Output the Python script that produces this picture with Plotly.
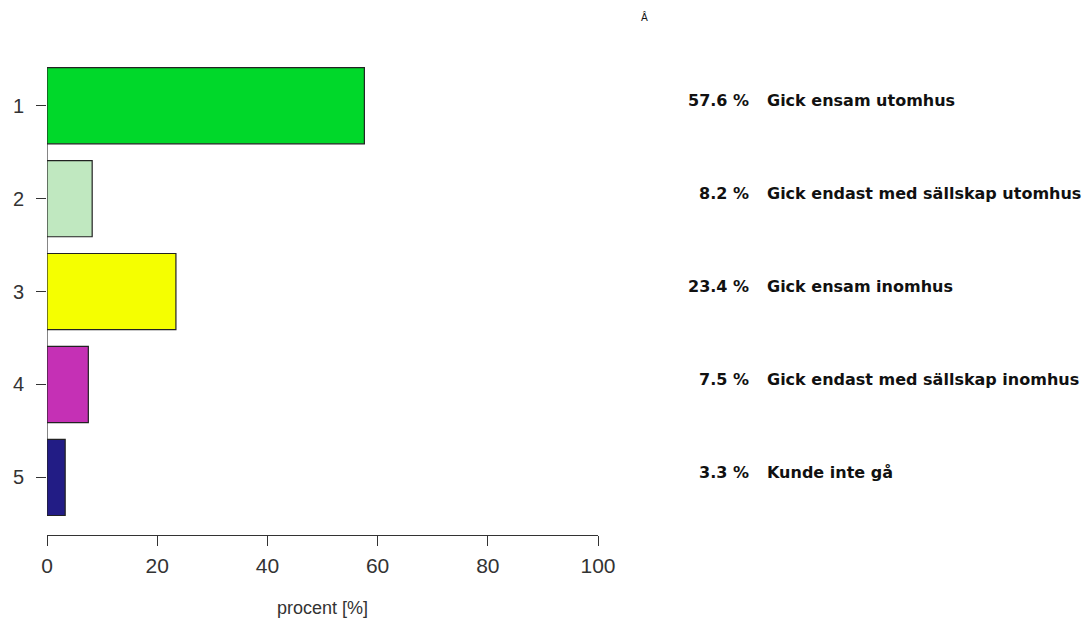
import plotly.graph_objects as go

categories = [1, 2, 3, 4, 5]
values = [57.6, 8.2, 23.4, 7.5, 3.3]
labels = ["Gick ensam utomhus", "Gick endast med sällskap utomhus",
          "Gick ensam inomhus", "Gick endast med sällskap inomhus", "Kunde inte gå"]
colors = ["#00d82a", "#c0e8c0", "#f5ff00", "#c530b5", "#221c85"]
x_ticks = [0, 20, 40, 60, 80, 100]

# page body has an 8px margin; figure coords = screen coords - 8
OFF = 8
W, H = 1082, 616
L, T = 47 - OFF, 50 - OFF
plot_right = 598 - OFF
plot_bottom = 535 - OFF
R, B = W - plot_right, H - plot_bottom
plot_w = plot_right - L
plot_h = plot_bottom - T

fig = go.Figure()
fig.add_trace(go.Bar(
    x=values, y=categories, orientation="h", width=0.82,
    marker=dict(color=colors, line=dict(color="#222222", width=1.2)),
    hoverinfo="x+y",
))

# y axis line from first to last category (R style)
fig.add_shape(type="line", xref="x", yref="y", x0=0, x1=0,
              y0=categories[0], y1=categories[-1],
              line=dict(color="#333333", width=1.2), layer="below")

def px_to_paper_x(px):
    return (px - OFF - L) / plot_w

def px_to_paper_y(py):
    return (plot_bottom - (py - OFF)) / plot_h

tfont = dict(family="DejaVu Sans", size=16, color="#111111", weight="bold")
for c, v, lab in zip(categories, values, labels):
    fig.add_annotation(x=px_to_paper_x(751), xref="paper", y=c, yref="y",
                       text=f"{v:.1f} %", showarrow=False, xanchor="right",
                       yshift=5, font=tfont)
    fig.add_annotation(x=px_to_paper_x(765), xref="paper", y=c, yref="y",
                       text=lab, showarrow=False, xanchor="left",
                       yshift=5, font=tfont)

fig.add_annotation(x=px_to_paper_x(645), xref="paper", y=px_to_paper_y(17), yref="paper",
                   text="Â", showarrow=False, xanchor="center", yanchor="middle",
                   font=dict(family="DejaVu Sans", size=10, color="#111111"))

fig.update_layout(
    width=W, height=H,
    margin=dict(l=L, r=R, t=T, b=B, pad=0, autoexpand=False),
    paper_bgcolor="white", plot_bgcolor="white",
    showlegend=False,
    font=dict(family="Liberation Sans, Arial", color="#333333"),
    xaxis=dict(range=[0, 100], tickvals=x_ticks, ticks="outside", ticklen=10,
               tickwidth=1.2, tickcolor="#333333", showline=True, linecolor="#333333",
               linewidth=1.2, showgrid=False, zeroline=False, automargin=False,
               tickfont=dict(size=21, color="#333333"), ticklabelstandoff=2,
               title=dict(text="procent [%]", font=dict(size=18, color="#333333"), standoff=25)),
    yaxis=dict(range=[5.62, 0.4], tickvals=categories, ticktext=[str(c) for c in categories],
               ticks="outside", ticklen=10, tickwidth=1.2, tickcolor="#333333",
               showline=False, showgrid=False, zeroline=False, automargin=False,
               tickfont=dict(size=20, color="#333333"), ticklabelstandoff=8),
)

fig.write_html("out.html")
